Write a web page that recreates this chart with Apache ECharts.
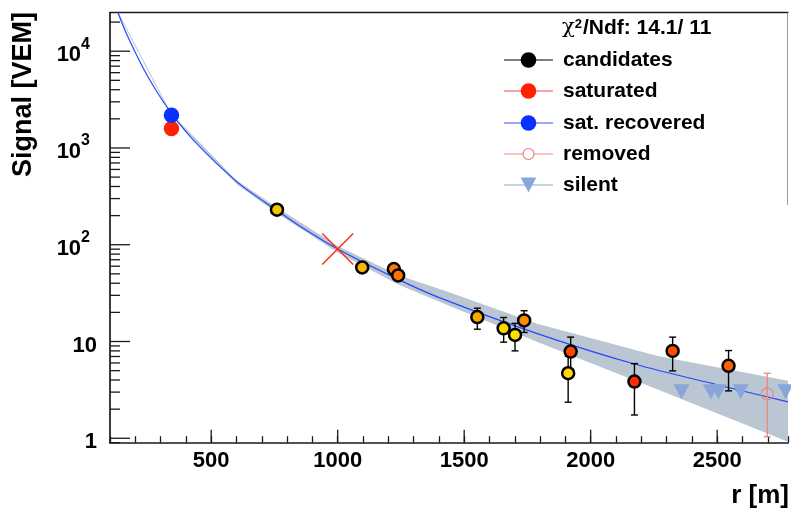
<!DOCTYPE html>
<html><head><meta charset="utf-8">
<script src="https://cdn.jsdelivr.net/npm/echarts@6/dist/echarts.min.js"></script>
<style>html,body{margin:0;padding:0;background:#fff}#c{width:791px;height:509px}</style>
</head><body><div id="c"></div>
<script>
// ---------------- data ----------------
const fitR = [132, 150, 178, 231, 283, 323, 362, 428, 520, 624, 760, 848, 1000, 1241, 1399, 1792, 2173, 2501, 2780];
const fitS = [25000, 18800, 12800, 6700, 3900, 2700, 1949, 1220, 698, 401, 226, 157, 90.3, 43.6, 28.6, 12.0, 5.85, 3.57, 2.38];

const bandR  = [132, 343, 600, 760, 1000, 1241, 1438, 1792, 2265, 2780];
const bandUp = [25600, 2260, 465, 242, 97, 48.5, 32.5, 15.2, 7.1, 3.92];
const bandLo = [24400, 2140, 425, 212, 83, 38.5, 23.5, 9.8, 3.2, 0.92];

const candR    = [760, 1097, 1222, 1239, 1552, 1656, 1701, 1737, 1921, 1911, 2173, 2324, 2545];
const candS    = [230, 58.2, 56.1, 48.1, 17.9, 13.7, 11.7, 16.5, 7.87, 4.7, 3.85, 8.0, 5.6];
const candLo   = [216, 53, 51, 43.5, 13.4, 9.85, 8.0, 12.4, 4.6, 2.36, 1.74, 4.97, 3.09];
const candHi   = [244, 63.5, 61.2, 52.7, 22.1, 17.7, 15.4, 20.8, 11.1, 7.04, 5.91, 11.1, 8.06];
const candFill = ['#f7c200', '#f9b400', '#ff7b00', '#ff7300', '#f8a900', '#ffd500', '#ffe100', '#ff8a00', '#ff4500', '#ffd800', '#ff2a00', '#ff4d00', '#ff6200'];

const satR = [343], satS = [1585];
const recR = [343], recS = [2177];
const remR = [2698], remS = [2.87], remLo = [1.04], remHi = [4.7];
const silentR = [2359, 2475, 2505, 2593, 2770];
const silentS = [3.03, 3.03, 3.03, 3.03, 3.03];
const s1000R = [1000], s1000S = [90.3];

const xTicksMajor = [500, 1000, 1500, 2000, 2500];
const xTickLabels = ['500', '1000', '1500', '2000', '2500'];
const yTicksMajor = [1, 10, 100, 1000, 10000];
const yTickLabels = ['1', '10', '10^2', '10^3', '10^4'];
const yMinorMult  = [2, 3, 4, 5, 6, 7, 8, 9];

const X0 = 100, X1 = 2780, Y0 = 0.9, Y1 = 25000;
const FONT = 'Liberation Sans';

// --------------- helpers ---------------
const yMinor = [0.9];
yTicksMajor.forEach(d => yMinorMult.forEach(m => { const v = d * m; if (v < Y1) yMinor.push(v); }));

function yLabel(v) {
  for (let i = 0; i < yTicksMajor.length; i++) {
    if (Math.abs(v - yTicksMajor[i]) / yTicksMajor[i] < 1e-6) {
      const t = yTickLabels[i];
      if (t.indexOf('^') >= 0) { const p = t.split('^'); return '{b|' + p[0] + '}{s|' + p[1] + '}'; }
      return '{b|' + t + '}';
    }
  }
  return '';
}
function xLabel(v) {
  for (let i = 0; i < xTicksMajor.length; i++) if (Math.abs(v - xTicksMajor[i]) < 1e-6) return xTickLabels[i];
  return '';
}

function errBarRender(color, cap) {
  return function (params, api) {
    const a = api.coord([api.value(0), api.value(1)]);
    const b = api.coord([api.value(0), api.value(2)]);
    const st = { stroke: color, lineWidth: 1.4 };
    return { type: 'group', children: [
      { type: 'line', shape: { x1: a[0], y1: a[1], x2: b[0], y2: b[1] }, style: st },
      { type: 'line', shape: { x1: a[0] - cap, y1: a[1], x2: a[0] + cap, y2: a[1] }, style: st },
      { type: 'line', shape: { x1: b[0] - cap, y1: b[1], x2: b[0] + cap, y2: b[1] }, style: st }
    ] };
  };
}

const chart = echarts.init(document.getElementById('c'));

const legendY = [60, 91, 123, 154, 185];
const LX1 = 504, LX2 = 553, LXM = 528.5, LT = 563;
const legendNames = ['candidates', 'saturated', 'sat. recovered', 'removed', 'silent'];
const legendLine = ['#000000', '#ff4a3a', '#3355ff', '#f08a80', '#8aa5da'];
const graphics = [];
legendNames.forEach((n, i) => {
  graphics.push({ type: 'line', shape: { x1: LX1, y1: legendY[i], x2: LX2, y2: legendY[i] }, style: { stroke: legendLine[i], lineWidth: 1.2 }, z: 100 });
  graphics.push({ type: 'text', x: LT, y: legendY[i], style: { text: n, font: 'bold 21px "' + FONT + '"', fill: '#000', verticalAlign: 'middle' }, z: 100 });
});
graphics.push({ type: 'circle', shape: { cx: LXM, cy: legendY[0], r: 7.8 }, style: { fill: '#000' }, z: 101 });
graphics.push({ type: 'circle', shape: { cx: LXM, cy: legendY[1], r: 7.8 }, style: { fill: '#ff2200' }, z: 101 });
graphics.push({ type: 'circle', shape: { cx: LXM, cy: legendY[2], r: 7.8 }, style: { fill: '#0a30ff' }, z: 101 });
graphics.push({ type: 'circle', shape: { cx: LXM, cy: legendY[3], r: 5.5 }, style: { fill: '#fff', stroke: '#e8786e', lineWidth: 1.1 }, z: 101 });
graphics.push({ type: 'polygon', shape: { points: [[LXM - 7.8, legendY[4] - 7.5], [LXM + 7.8, legendY[4] - 7.5], [LXM, legendY[4] + 7.5]] }, style: { fill: '#8aa5da' }, z: 101 });
graphics.push({ type: 'text', x: 562, y: 28, style: {
  text: '{c|χ}{s|2}{t|/Ndf: 14.1/ 11}',
  rich: {
    c: { font: '21px "DejaVu Serif"', fill: '#000', verticalAlign: 'bottom' },
    s: { font: 'bold 13px "' + FONT + '"', fill: '#000', verticalAlign: 'top', padding: [0, 1, 0, 0] },
    t: { font: 'bold 21px "' + FONT + '"', fill: '#000', verticalAlign: 'bottom' }
  }, verticalAlign: 'middle' }, z: 100 });
// legend box right edge
graphics.push({ type: 'line', shape: { x1: 787.5, y1: 12.7, x2: 787.5, y2: 205 }, style: { stroke: '#9a9a9a', lineWidth: 1 }, z: 100 });
// axis titles
graphics.push({ type: 'text', x: 24, y: 12, rotation: Math.PI / 2, style: { text: 'Signal [VEM]', font: 'bold 27px "' + FONT + '"', fill: '#000', align: 'right', verticalAlign: 'middle' }, z: 100 });
graphics.push({ type: 'text', x: 789, y: 496, style: { text: 'r [m]', font: 'bold 26px "' + FONT + '"', fill: '#000', align: 'right', verticalAlign: 'middle' }, z: 100 });

const option = {
  animation: false,
  backgroundColor: '#fff',
  grid: { left: 110, right: 0, top: 12.7, bottom: 66.3 },
  xAxis: [{
    type: 'value', min: X0, max: X1, interval: 100,
    axisLine: { lineStyle: { color: '#1a1a1a', width: 1.7 } },
    axisTick: { inside: true, length: 6.5, lineStyle: { color: '#1a1a1a', width: 1.3 } },
    splitLine: { show: false },
    axisLabel: { formatter: xLabel, fontSize: 22, fontWeight: 'bold', fontFamily: FONT, color: '#000', margin: 7 }
  }, {
    type: 'value', position: 'top', min: X0, max: X1,
    axisLine: { show: true, lineStyle: { color: '#1a1a1a', width: 1.4 } },
    axisTick: { show: false }, axisLabel: { show: false }, splitLine: { show: false }
  }],
  yAxis: {
    type: 'log', logBase: 10, min: Y0, max: Y1,
    axisLine: { show: true, lineStyle: { color: '#1a1a1a', width: 1.7 } },
    axisTick: { show: false }, minorTick: { show: false }, splitLine: { show: false },
    axisLabel: {
      formatter: yLabel, margin: 13, color: '#000',
      rich: {
        b: { fontSize: 22, fontWeight: 'bold', fontFamily: FONT, color: '#000', padding: [8, 0, 0, 0] },
        s: { fontSize: 16, fontWeight: 'bold', fontFamily: FONT, color: '#000', verticalAlign: 'top', padding: [0, 7, 0, 0] }
      }
    }
  },
  graphic: graphics,
  series: [
    { // uncertainty band
      type: 'custom', clip: true, z: 1, silent: true,
      data: [[bandR[0], bandUp[0]]],
      renderItem: function (params, api) {
        const pts = [];
        for (let i = 0; i < bandR.length; i++) pts.push(api.coord([bandR[i], bandUp[i]]));
        for (let i = bandR.length - 1; i >= 0; i--) pts.push(api.coord([bandR[i], bandLo[i]]));
        return { type: 'polygon', shape: { points: pts }, style: { fill: '#bac7d2' } };
      }
    },
    { // fitted LDF
      type: 'line', z: 2, showSymbol: false, smooth: 0.3, clip: true, silent: true,
      data: fitR.map((r, i) => [r, fitS[i]]),
      lineStyle: { color: '#2448ff', width: 1.2 }
    },
    { // y ticks
      type: 'custom', z: 5, silent: true,
      data: yTicksMajor.map(v => [X0, v, 20]).concat(yMinor.map(v => [X0, v, 10])),
      renderItem: function (params, api) {
        const p = api.coord([api.value(0), api.value(1)]);
        return { type: 'line', shape: { x1: p[0], y1: p[1], x2: p[0] + api.value(2), y2: p[1] }, style: { stroke: '#1a1a1a', lineWidth: 1.3 } };
      }
    },
    { // x major ticks
      type: 'custom', z: 5, silent: true,
      data: xTicksMajor.map(v => [v, Y0]),
      renderItem: function (params, api) {
        const p = api.coord([api.value(0), api.value(1)]);
        return { type: 'line', shape: { x1: p[0], y1: p[1], x2: p[0], y2: p[1] - 13 }, style: { stroke: '#1a1a1a', lineWidth: 1.3 } };
      }
    },
    { // silent stations
      type: 'scatter', z: 3, symbol: 'triangle', symbolRotate: 180, symbolSize: [16, 15],
      data: silentR.map((r, i) => [r, silentS[i]]),
      itemStyle: { color: '#8aa5da', opacity: 1 }
    },
    { // removed error bar
      type: 'custom', z: 4,
      data: remR.map((r, i) => [r, remLo[i], remHi[i]]),
      renderItem: errBarRender('#ee8a82', 3.5)
    },
    { // removed
      type: 'scatter', z: 4, symbol: 'circle', symbolSize: 12,
      data: remR.map((r, i) => [r, remS[i]]),
      itemStyle: { color: 'rgba(0,0,0,0)', borderColor: '#ee8078', borderWidth: 1.1, opacity: 1 }
    },
    { // candidate error bars
      type: 'custom', z: 6,
      data: candR.map((r, i) => [r, candLo[i], candHi[i]]),
      renderItem: errBarRender('#000', 3.5)
    },
    { // candidates
      type: 'scatter', z: 7, symbol: 'circle', symbolSize: 12,
      data: candR.map((r, i) => ({ value: [r, candS[i]], itemStyle: { color: candFill[i] } })),
      itemStyle: { borderColor: '#000', borderWidth: 2.5, opacity: 1 }
    },
    { // saturated
      type: 'scatter', z: 7, symbolSize: 15.5,
      data: satR.map((r, i) => [r, satS[i]]),
      itemStyle: { color: '#ff2200', opacity: 1 }
    },
    { // saturation recovered
      type: 'scatter', z: 7, symbolSize: 15.5,
      data: recR.map((r, i) => [r, recS[i]]),
      itemStyle: { color: '#0a30ff', opacity: 1 }
    },
    { // S(1000) marker
      type: 'custom', z: 8,
      data: s1000R.map((r, i) => [r, s1000S[i]]),
      renderItem: function (params, api) {
        const p = api.coord([api.value(0), api.value(1)]);
        const h = 15.5, st = { stroke: '#ff2a10', lineWidth: 1.4 };
        return { type: 'group', children: [
          { type: 'line', shape: { x1: p[0] - h, y1: p[1] - h, x2: p[0] + h, y2: p[1] + h }, style: st },
          { type: 'line', shape: { x1: p[0] - h, y1: p[1] + h, x2: p[0] + h, y2: p[1] - h }, style: st }
        ] };
      }
    }
  ]
};
chart.setOption(option);
</script>
</body></html>
